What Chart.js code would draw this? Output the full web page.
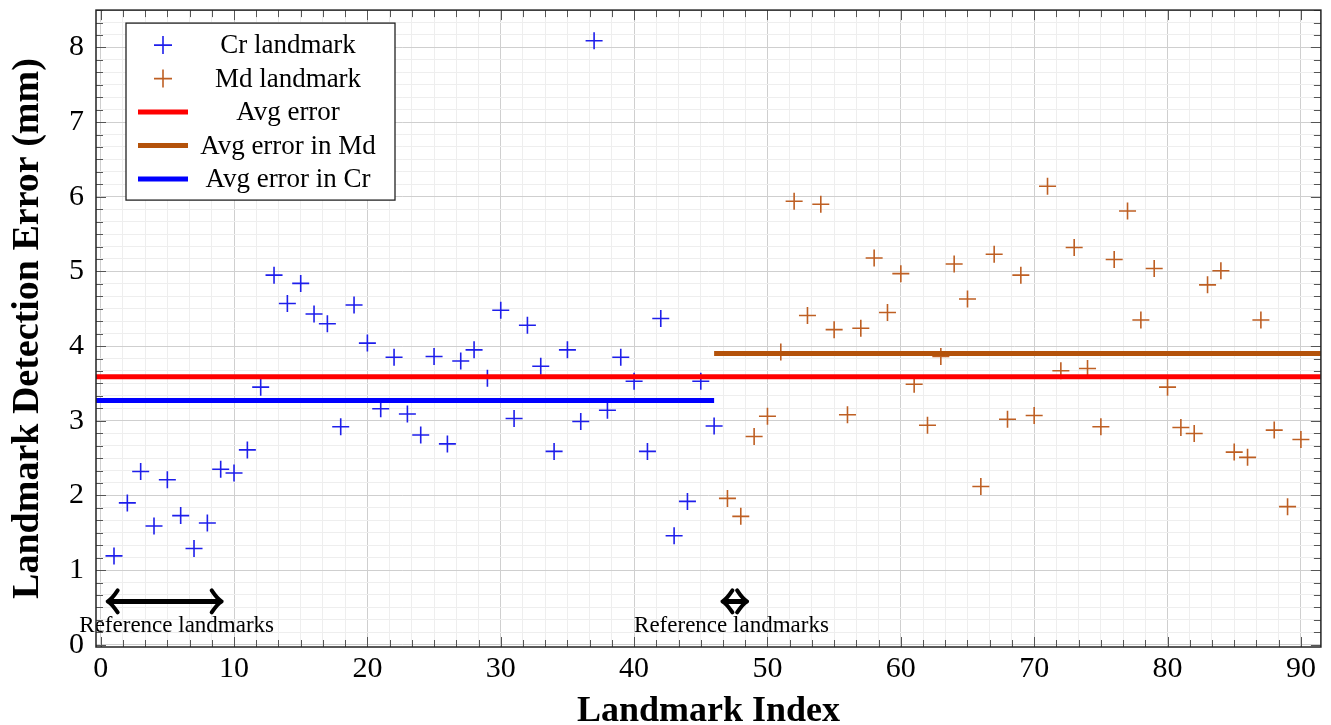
<!DOCTYPE html>
<html>
<head>
<meta charset="utf-8">
<script src="https://cdn.jsdelivr.net/npm/chart.js@4.4.1/dist/chart.umd.min.js"></script>
<style>
  html, body { margin: 0; padding: 0; background: #fff; }
  #wrap { width: 1331px; height: 725px; }
</style>
</head>
<body>
<div id="wrap"><canvas id="errChart"></canvas></div>
<script>
// landmark indices and detection errors (mm)
var crIndex = [1,2,3,4,5,6,7,8,9,10,11,12,13,14,15,16,17,18,19,20,21,22,23,
               24,25,26,27,28,29,30,31,32,33,34,35,36,37,38,39,40,41,42,43,44,45,46];
var crError = [1.19,1.90,2.32,1.59,2.21,1.73,1.29,1.63,2.35,2.30,2.61,3.45,4.95,4.57,4.84,4.43,4.30,2.92,4.55,4.04,3.16,3.85,3.09,
               2.81,3.86,2.69,3.80,3.95,3.57,4.48,3.03,4.28,3.73,2.59,3.95,2.99,8.09,3.14,3.85,3.53,2.59,4.37,1.46,1.92,3.53,2.93];
var mdIndex = [47,48,49,50,51,52,53,54,55,56,57,58,59,60,61,62,63,64,65,66,67,68,
               69,70,71,72,73,74,75,76,77,78,79,80,81,82,83,84,85,86,87,88,89,90];
var mdError = [1.96,1.72,2.79,3.06,3.92,5.94,4.41,5.90,4.22,3.08,4.24,5.18,4.45,4.97,3.49,2.94,3.86,5.10,4.63,2.12,5.23,3.02,
               4.95,3.07,6.14,3.67,5.32,3.70,2.92,5.16,5.81,4.35,5.04,3.45,2.91,2.83,4.82,5.01,2.58,2.51,4.35,2.875,1.85,2.75];

var avgAll = 3.59;
var avgMd = 3.90;
var avgCr = 3.27;
var splitIndex = 46;

// axis range
var xMin = -0.35, xMax = 91.5;
var yMin = -0.03, yMax = 8.5;

// reference landmark arrows
var arrowFrom = [0.6, 46.7];
var arrowTo = [9.0, 48.4];
var arrowY = 0.58;
var refLabel = 'Reference landmarks';
var refLabelX = [5.7, 47.3];
var refLabelY = 0.25;

var BLUE = 'rgb(30,30,235)';
var MD = 'rgb(190,95,35)';
var MDLINE = 'rgb(180,82,10)';
var RED = 'rgb(255,0,0)';
var LBLUE = 'rgb(0,0,255)';
var SERIF = '"Liberation Serif", "Times New Roman", serif';

function pts(xs, ys) {
  return xs.map(function (x, i) { return {x: x, y: ys[i]}; });
}
function isMajor(v, step) {
  return Math.abs(v / step - Math.round(v / step)) < 1e-6;
}

var frameAndTicks = {
  id: 'frameAndTicks',
  afterDraw: function (chart) {
    var ctx = chart.ctx, a = chart.chartArea;
    var xs = chart.scales.x, ys = chart.scales.y;
    ctx.save();
    ctx.strokeStyle = '#555';
    ctx.lineWidth = 1;
    ctx.beginPath();
    xs.ticks.forEach(function (t) {
      var p = Math.round(xs.getPixelForValue(t.value)) + 0.5;
      var len = isMajor(t.value, 10) ? 10 : 7;
      ctx.moveTo(p, a.bottom); ctx.lineTo(p, a.bottom - len);
      ctx.moveTo(p, a.top); ctx.lineTo(p, a.top + len);
    });
    ys.ticks.forEach(function (t) {
      var p = Math.round(ys.getPixelForValue(t.value)) + 0.5;
      var len = isMajor(t.value, 1) ? 10 : 7;
      ctx.moveTo(a.left, p); ctx.lineTo(a.left + len, p);
      ctx.moveTo(a.right, p); ctx.lineTo(a.right - len, p);
    });
    ctx.stroke();
    ctx.strokeStyle = '#222';
    ctx.lineWidth = 1.5;
    ctx.strokeRect(a.left, a.top, a.right - a.left, a.bottom - a.top);
    ctx.restore();
  }
};

function arrowHead(ctx, x, y, dir) {
  // curved barbs, dir = -1 points left, +1 points right
  ctx.beginPath();
  ctx.moveTo(x - dir * 9, y - 11);
  ctx.quadraticCurveTo(x - dir * 3, y - 2, x + dir * 1, y);
  ctx.quadraticCurveTo(x - dir * 3, y + 2, x - dir * 9, y + 11);
  ctx.stroke();
}

var refArrows = {
  id: 'refArrows',
  afterDatasetsDraw: function (chart) {
    var ctx = chart.ctx, xs = chart.scales.x, ys = chart.scales.y;
    ctx.save();
    ctx.strokeStyle = '#000';
    ctx.lineCap = 'round';
    ctx.lineJoin = 'round';
    var py = ys.getPixelForValue(arrowY);
    for (var i = 0; i < arrowFrom.length; i++) {
      var p1 = xs.getPixelForValue(arrowFrom[i]);
      var p2 = xs.getPixelForValue(arrowTo[i]);
      ctx.lineWidth = 5;
      ctx.beginPath();
      ctx.moveTo(p1 + 2, py); ctx.lineTo(p2 - 2, py);
      ctx.stroke();
      ctx.lineWidth = 4;
      arrowHead(ctx, p1, py, -1);
      arrowHead(ctx, p2, py, 1);
    }
    ctx.fillStyle = '#000';
    ctx.font = '23px ' + SERIF;
    ctx.textAlign = 'center';
    ctx.textBaseline = 'middle';
    refLabelX.forEach(function (lx) {
      ctx.fillText(refLabel, xs.getPixelForValue(lx), ys.getPixelForValue(refLabelY));
    });
    ctx.restore();
  }
};

var boxLegend = {
  id: 'boxLegend',
  afterDraw: function (chart) {
    var ctx = chart.ctx, a = chart.chartArea;
    var left = a.left + 30, top = a.top + 13, w = 269, h = 177;
    ctx.save();
    ctx.fillStyle = '#fff';
    ctx.fillRect(left, top, w, h);
    ctx.strokeStyle = '#222';
    ctx.lineWidth = 1.3;
    ctx.strokeRect(left, top, w, h);
    ctx.font = '27px ' + SERIF;
    ctx.textAlign = 'center';
    ctx.textBaseline = 'middle';
    chart.data.datasets.forEach(function (ds, i) {
      var cy = top + 22 + i * 33.5;
      var cx = left + 37;
      ctx.strokeStyle = ds.borderColor;
      if (ds.showLine) {
        ctx.lineWidth = 5;
        ctx.beginPath();
        ctx.moveTo(left + 12, cy); ctx.lineTo(left + 62, cy);
        ctx.stroke();
      } else {
        ctx.lineWidth = 1.6;
        ctx.beginPath();
        ctx.moveTo(cx - 9, cy); ctx.lineTo(cx + 9, cy);
        ctx.moveTo(cx, cy - 9); ctx.lineTo(cx, cy + 9);
        ctx.stroke();
      }
      ctx.fillStyle = '#000';
      ctx.fillText(ds.label, left + 162, cy + 1);
    });
    ctx.restore();
  }
};

var markerStyle = {
  showLine: false,
  pointStyle: 'cross',
  pointRadius: 8.5,
  pointHoverRadius: 8.5,
  pointBorderWidth: 1.6,
  order: 1
};
var lineStyle = {
  showLine: true,
  borderWidth: 5,
  pointRadius: 0,
  borderCapStyle: 'butt',
  order: 0
};

var ctx = document.getElementById('errChart').getContext('2d');
var errChart = new Chart(ctx, {
  type: 'scatter',
  data: {
    datasets: [
      Object.assign({label: 'Cr landmark', data: pts(crIndex, crError), borderColor: BLUE, backgroundColor: BLUE}, markerStyle),
      Object.assign({label: 'Md landmark', data: pts(mdIndex, mdError), borderColor: MD, backgroundColor: MD}, markerStyle),
      Object.assign({label: 'Avg error', data: [{x: xMin, y: avgAll}, {x: xMax, y: avgAll}], borderColor: RED}, lineStyle),
      Object.assign({label: 'Avg error in Md', data: [{x: splitIndex, y: avgMd}, {x: xMax, y: avgMd}], borderColor: MDLINE}, lineStyle),
      Object.assign({label: 'Avg error in Cr', data: [{x: xMin, y: avgCr}, {x: splitIndex, y: avgCr}], borderColor: LBLUE}, lineStyle)
    ]
  },
  options: {
    responsive: true,
    maintainAspectRatio: false,
    animation: false,
    layout: { padding: { top: 10, right: 10, left: 0, bottom: 0 } },
    plugins: { legend: { display: false }, tooltip: { enabled: false } },
    scales: {
      x: {
        type: 'linear',
        min: xMin, max: xMax,
        afterBuildTicks: function (s) {
          var t = [];
          for (var k = 0; k * 10 / 6 <= xMax; k++) t.push({value: k * 10 / 6});
          s.ticks = t;
        },
        afterFit: function (s) { s.height = 78; s.paddingLeft = 0; s.paddingRight = 0; },
        ticks: {
          autoSkip: false, maxRotation: 0, padding: 4,
          color: '#000',
          font: { family: SERIF, size: 30 },
          callback: function (v) { return isMajor(v, 10) ? String(Math.round(v)) : ''; }
        },
        grid: {
          drawTicks: false,
          color: function (c) { return c.tick && isMajor(c.tick.value, 10) ? '#cfcfcf' : '#eeeeee'; }
        },
        border: { display: false },
        title: {
          display: true, text: 'Landmark Index', color: '#000',
          font: { family: SERIF, size: 36, weight: 'bold', lineHeight: 0.75 },
          padding: { top: 0, bottom: 0 }
        }
      },
      y: {
        type: 'linear',
        min: yMin, max: yMax,
        afterBuildTicks: function (s) {
          var t = [];
          for (var k = 0; k / 6 <= yMax; k++) t.push({value: k / 6});
          s.ticks = t;
        },
        afterFit: function (s) { s.width = 96; s.paddingTop = 0; s.paddingBottom = 0; },
        ticks: {
          autoSkip: false, padding: 12,
          color: '#000',
          font: { family: SERIF, size: 30 },
          callback: function (v) { return isMajor(v, 1) ? String(Math.round(v)) : ''; }
        },
        grid: {
          drawTicks: false,
          color: function (c) { return c.tick && isMajor(c.tick.value, 1) ? '#cfcfcf' : '#eeeeee'; }
        },
        border: { display: false },
        title: {
          display: true, text: 'Landmark Detection Error (mm)', color: '#000',
          font: { family: SERIF, size: 38, weight: 'bold', lineHeight: 1.2 },
          padding: { top: 5, bottom: 0 }
        }
      }
    }
  },
  plugins: [frameAndTicks, refArrows, boxLegend]
});
</script>
</body>
</html>
